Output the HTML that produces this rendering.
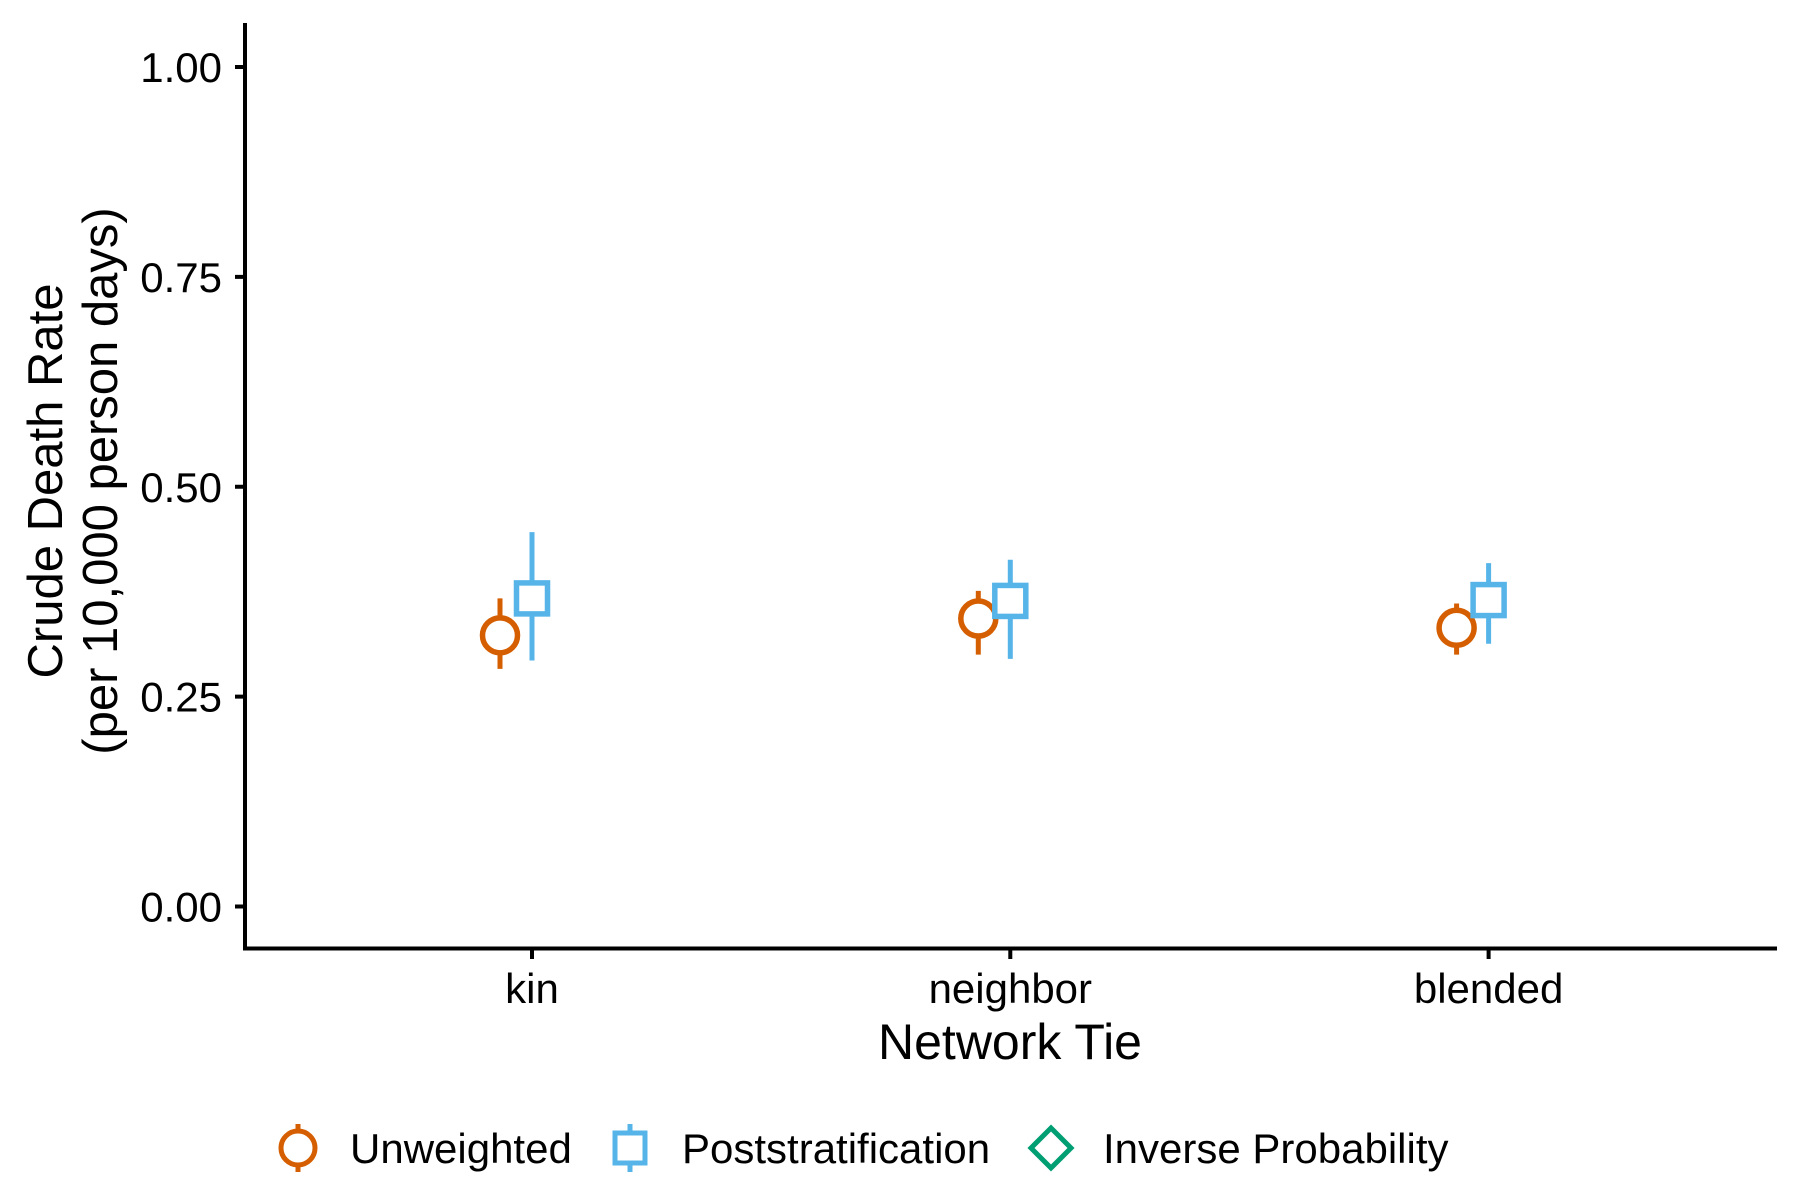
<!DOCTYPE html>
<html><head><meta charset="utf-8"><style>
html,body{margin:0;padding:0;background:#fff;}
svg{display:block;font-family:"Liberation Sans",Arial,sans-serif;}
</style></head><body>
<svg id="chart" width="1800" height="1200" viewBox="0 0 1800 1200" xmlns="http://www.w3.org/2000/svg">
<rect width="1800" height="1200" fill="#fff"/>
<g id="axes"></g>
<g id="marks"></g>
<text x="1010" y="1059" font-size="50" text-anchor="middle" fill="#000">Network Tie</text>
<g transform="translate(62,481) rotate(-90)">
<text x="0" y="0" font-size="49" text-anchor="middle" fill="#000">Crude Death Rate</text>
<text x="0" y="55" font-size="49" text-anchor="middle" fill="#000">(per 10,000 person days)</text>
</g>
<g id="legend">
<g>
<line x1="298" y1="1124" x2="298" y2="1172" stroke="#D55E00" stroke-width="5"/>
<circle cx="298" cy="1148" r="17" fill="#fff" stroke="#D55E00" stroke-width="5"/>
<text x="350" y="1163" font-size="42" fill="#000">Unweighted</text>
</g>
<g>
<line x1="630" y1="1124" x2="630" y2="1172" stroke="#56B4E9" stroke-width="5"/>
<rect x="615" y="1133" width="30" height="30" fill="#fff" stroke="#56B4E9" stroke-width="5"/>
<text x="682" y="1163" font-size="42" fill="#000">Poststratification</text>
</g>
<g>
<path d="M1051,1128 L1071,1148 L1051,1168 L1031,1148 Z" fill="#fff" stroke="#009E73" stroke-width="5"/>
<text x="1103" y="1163" font-size="42" fill="#000">Inverse Probability</text>
</g>
</g>
</svg>
<script>
const categories = ["kin", "neighbor", "blended"];
const seriesNames = ["Unweighted", "Poststratification", "Inverse Probability"];
const unweightedMean = [0.323, 0.343, 0.332];
const unweightedLow = [0.283, 0.300, 0.300];
const unweightedHigh = [0.367, 0.376, 0.361];
const poststratMean = [0.367, 0.364, 0.365];
const poststratLow = [0.293, 0.295, 0.313];
const poststratHigh = [0.446, 0.413, 0.409];
const yTicks = [0, 0.25, 0.5, 0.75, 1.0];
const yTickLabels = ["0.00", "0.25", "0.50", "0.75", "1.00"];

const NS = "http://www.w3.org/2000/svg";
function yScale(v){ return 906.5 - v * 839.5; }
function xScale(i){ return 532 + i * 478.3; }
function mk(tag, attrs, parent){
  const e = document.createElementNS(NS, tag);
  for (const k in attrs) e.setAttribute(k, attrs[k]);
  parent.appendChild(e);
  return e;
}
const axes = document.getElementById('axes');
const marks = document.getElementById('marks');

const yAxis = mk('line', {x1:245, y1:23, x2:245, y2:950, stroke:'#000', 'stroke-width':4}, axes);


const xAxis = mk('line', {x1:243, y1:948.5, x2:1777, y2:948.5, stroke:'#000', 'stroke-width':4}, axes);



yTicks.forEach((v, i) => {
  const y = yScale(v);
  const t = mk('line', {x1:235, y1:y, x2:245, y2:y, stroke:'#000', 'stroke-width':4}, axes);
  
  
  const l = mk('text', {x:222, y:y + 15, 'font-size':42, 'text-anchor':'end', fill:'#000'}, axes);
  l.textContent = yTickLabels[i];
  
  
});
categories.forEach((c, i) => {
  const x = xScale(i);
  const t = mk('line', {x1:x, y1:948.5, x2:x, y2:959, stroke:'#000', 'stroke-width':4}, axes);
  
  
  const l = mk('text', {x:x, y:1003, 'font-size':42, 'text-anchor':'middle', fill:'#000'}, axes);
  l.textContent = c;
  
  
});

categories.forEach((c, i) => {
  const xu = xScale(i) - 32;
  const eu = mk('line', {x1:xu, y1:yScale(unweightedLow[i]), x2:xu, y2:yScale(unweightedHigh[i]), stroke:'#D55E00', 'stroke-width':5}, marks);
  
  
  const pu = mk('circle', {cx:xu, cy:yScale(unweightedMean[i]), r:17.5, fill:'#fff', stroke:'#D55E00', 'stroke-width':5.5}, marks);
  
  

  const xp = xScale(i);
  const ep = mk('line', {x1:xp, y1:yScale(poststratLow[i]), x2:xp, y2:yScale(poststratHigh[i]), stroke:'#56B4E9', 'stroke-width':5}, marks);
  
  
  const ym = yScale(poststratMean[i]);
  const pp = mk('rect', {x:xp - 15.5, y:ym - 15.5, width:31, height:31, fill:'#fff', stroke:'#56B4E9', 'stroke-width':5.5}, marks);
  
  
});
</script>
</body></html>
